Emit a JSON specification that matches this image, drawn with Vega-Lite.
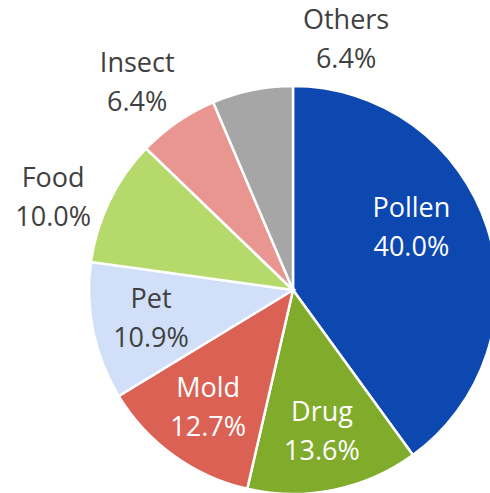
{
  "$schema": "https://vega.github.io/schema/vega-lite/v6.json",
  "autosize": "none",
  "width": 386,
  "height": 400,
  "padding": {"left": 100, "top": 90, "right": 4, "bottom": 3},
  "background": "white",
  "view": {"stroke": null},
  "data": {
    "values": [
      {"category": "Pollen", "value": 40.0, "order": 1},
      {"category": "Drug", "value": 13.6, "order": 2},
      {"category": "Mold", "value": 12.7, "order": 3},
      {"category": "Pet", "value": 10.9, "order": 4},
      {"category": "Food", "value": 10.0, "order": 5},
      {"category": "Insect", "value": 6.4, "order": 6},
      {"category": "Others", "value": 6.4, "order": 7}
    ]
  },
  "transform": [
    {"stack": "value", "groupby": [], "sort": [{"field": "order", "order": "ascending"}], "as": ["v0", "v1"]},
    {"calculate": "(datum.v0 + datum.v1) / 2", "as": "mid"},
    {"calculate": "[datum.category, format(datum.value, '.1f') + '%']", "as": "label"}
  ],
  "layer": [
    {
      "mark": {"type": "arc", "outerRadius": 204, "stroke": "white", "strokeWidth": 2.5},
      "encoding": {
        "theta": {"field": "v0", "type": "quantitative", "stack": null, "scale": {"domain": [0, 100], "range": [0, 6.283185307]}},
        "theta2": {"field": "v1"},
        "color": {
          "field": "category", "type": "nominal", "legend": null,
          "scale": {
            "domain": ["Pollen", "Drug", "Mold", "Pet", "Food", "Insect", "Others"],
            "range": ["#0D47B0", "#80AB2B", "#DB6155", "#D1E0F8", "#B6D96C", "#E99690", "#A6A6A6"]
          }
        }
      }
    },
    {
      "transform": [{"filter": "indexof(['Drug','Mold','Pet'], datum.category) >= 0"}],
      "mark": {"type": "text", "radius": 145, "dy": -19, "font": "Open Sans", "fontSize": 27, "lineHeight": 39, "align": "center", "baseline": "middle"},
      "encoding": {
        "theta": {"field": "mid", "type": "quantitative", "stack": null, "scale": {"domain": [0, 100], "range": [0, 6.283185307]}},
        "text": {"field": "label"},
        "color": {"condition": {"test": "datum.category === 'Pet'", "value": "#404040"}, "value": "white"}
      }
    },
    {
      "transform": [{"filter": "datum.category === 'Pollen'"}],
      "mark": {"type": "text", "radius": 136, "dx": -11, "dy": -39, "font": "Open Sans", "fontSize": 27, "lineHeight": 39, "align": "center", "baseline": "middle", "color": "white"},
      "encoding": {
        "theta": {"field": "mid", "type": "quantitative", "stack": null, "scale": {"domain": [0, 100], "range": [0, 6.283185307]}},
        "text": {"field": "label"}
      }
    },
    {
      "transform": [{"filter": "datum.category === 'Food'"}],
      "mark": {"type": "text", "radius": 250, "dx": -15, "dy": -2, "font": "Open Sans", "fontSize": 27, "lineHeight": 39, "align": "center", "baseline": "middle", "color": "#404040"},
      "encoding": {
        "theta": {"field": "mid", "type": "quantitative", "stack": null, "scale": {"domain": [0, 100], "range": [0, 6.283185307]}},
        "text": {"field": "label"}
      }
    },
    {
      "transform": [{"filter": "datum.category === 'Insect'"}],
      "mark": {"type": "text", "radius": 250, "dx": -14, "dy": -20, "font": "Open Sans", "fontSize": 27, "lineHeight": 39, "align": "center", "baseline": "middle", "color": "#404040"},
      "encoding": {
        "theta": {"field": "mid", "type": "quantitative", "stack": null, "scale": {"domain": [0, 100], "range": [0, 6.283185307]}},
        "text": {"field": "label"}
      }
    },
    {
      "transform": [{"filter": "datum.category === 'Others'"}],
      "mark": {"type": "text", "radius": 255, "dx": 104, "dy": -19, "font": "Open Sans", "fontSize": 27, "lineHeight": 39, "align": "center", "baseline": "middle", "color": "#404040"},
      "encoding": {
        "theta": {"field": "mid", "type": "quantitative", "stack": null, "scale": {"domain": [0, 100], "range": [0, 6.283185307]}},
        "text": {"field": "label"}
      }
    }
  ]
}
